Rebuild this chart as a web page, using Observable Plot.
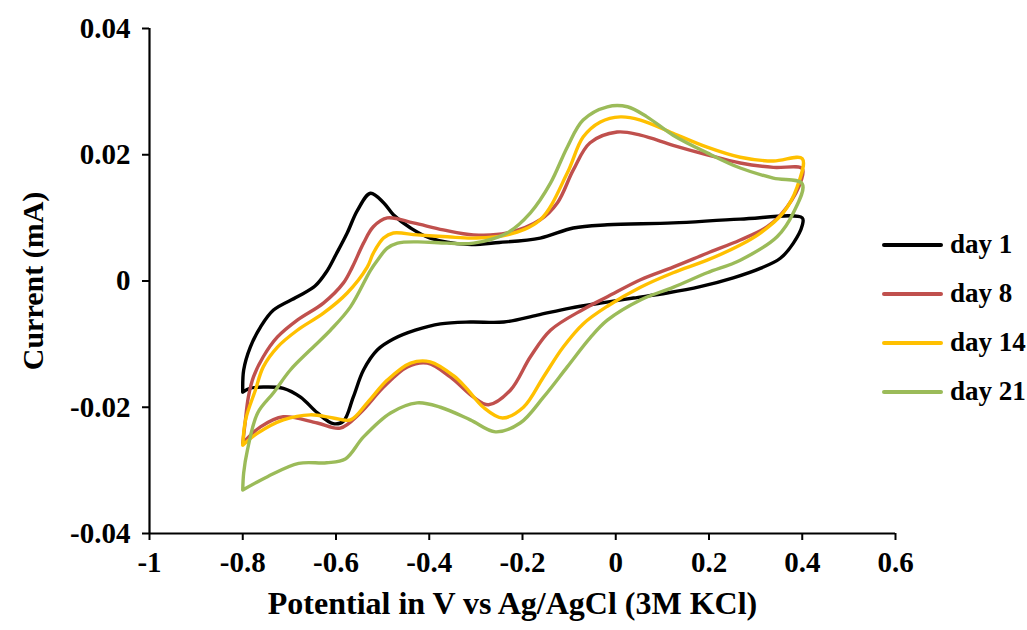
<!DOCTYPE html>
<html>
<head>
<meta charset="utf-8">
<script src="https://cdn.jsdelivr.net/npm/d3@7"></script>
<script src="https://cdn.jsdelivr.net/npm/@observablehq/plot@0.6"></script>
<style>
  html, body { margin: 0; padding: 0; background: #fff; }
  #wrap { position: relative; width: 1027px; height: 630px; background: #fff; }
  #legend { position: absolute; left: 882px; top: 220px; font-family: "Liberation Serif", "Times New Roman", serif; font-weight: bold; font-size: 27px; color: #000; }
  .row { display: flex; align-items: center; height: 49px; }
  .sw { width: 61px; height: 4px; margin-right: 7px; border-radius: 2px; }
</style>
</head>
<body>
<div id="wrap"><div id="legend"></div></div>
<script>
// ---- data (potential V, current mA), in scan order ----
const seriesNames = ["day 1", "day 8", "day 14", "day 21"];
const seriesColors = ["#000000", "#C0504D", "#FFC000", "#9BBB59"];

const day1 = [
  [-0.800,-0.0176],[-0.798,-0.0141],[-0.784,-0.0105],[-0.762,-0.0073],[-0.734,-0.0046],
  [-0.683,-0.0025],[-0.645,-0.0008],[-0.620,0.0015],[-0.600,0.0042],[-0.576,0.0076],
  [-0.554,0.0112],[-0.526,0.0139],[-0.498,0.0124],[-0.477,0.0105],[-0.440,0.0084],
  [-0.398,0.0068],[-0.318,0.0058],[-0.250,0.0061],[-0.162,0.0068],[-0.091,0.0084],
  [-0.018,0.0089],[0.123,0.0092],[0.267,0.0098],[0.400,0.0100],
  [0.400,0.0088],[0.381,0.0060],[0.353,0.0036],[0.310,0.0020],[0.252,0.0005],
  [0.181,-0.0009],[0.110,-0.0019],[0.038,-0.0027],[-0.033,-0.0035],[-0.098,-0.0043],
  [-0.168,-0.0054],[-0.240,-0.0065],[-0.312,-0.0065],[-0.376,-0.0068],[-0.430,-0.0078],
  [-0.477,-0.0092],[-0.511,-0.0109],[-0.541,-0.0141],[-0.563,-0.0184],[-0.584,-0.0222],
  [-0.606,-0.0226],[-0.640,-0.0209],[-0.676,-0.0184],[-0.713,-0.0170],[-0.756,-0.0168],
  [-0.785,-0.0170],[-0.800,-0.0176]
];
const day8 = [
  [-0.800,-0.0257],[-0.795,-0.0225],[-0.788,-0.0184],[-0.777,-0.0152],[-0.756,-0.0120],
  [-0.726,-0.0089],[-0.683,-0.0062],[-0.627,-0.0035],[-0.584,-0.0003],[-0.565,0.0022],
  [-0.541,0.0060],[-0.520,0.0086],[-0.490,0.0100],[-0.434,0.0092],[-0.370,0.0081],
  [-0.305,0.0073],[-0.233,0.0076],[-0.162,0.0097],[-0.125,0.0124],[-0.091,0.0176],
  [-0.055,0.0219],[0.003,0.0236],[0.053,0.0231],[0.123,0.0215],[0.196,0.0200],
  [0.267,0.0187],[0.338,0.0180],[0.400,0.0178],
  [0.398,0.0160],[0.367,0.0117],[0.325,0.0086],[0.267,0.0065],[0.196,0.0044],
  [0.123,0.0022],[0.053,0.0002],[-0.018,-0.0025],[-0.070,-0.0045],[-0.140,-0.0078],
  [-0.183,-0.0120],[-0.226,-0.0173],[-0.273,-0.0196],[-0.305,-0.0184],[-0.355,-0.0152],
  [-0.404,-0.0130],[-0.447,-0.0136],[-0.498,-0.0168],[-0.548,-0.0209],[-0.591,-0.0233],
  [-0.640,-0.0225],[-0.713,-0.0215],[-0.762,-0.0231],[-0.800,-0.0257]
];
const day14 = [
  [-0.800,-0.0260],[-0.794,-0.0220],[-0.773,-0.0173],[-0.756,-0.0136],[-0.726,-0.0105],
  [-0.683,-0.0078],[-0.627,-0.0051],[-0.576,-0.0019],[-0.533,0.0022],[-0.520,0.0044],
  [-0.498,0.0068],[-0.477,0.0076],[-0.426,0.0073],[-0.361,0.0070],[-0.305,0.0068],
  [-0.233,0.0073],[-0.162,0.0097],[-0.104,0.0171],[-0.070,0.0228],[-0.033,0.0252],
  [0.010,0.0260],[0.053,0.0255],[0.123,0.0234],[0.196,0.0212],[0.267,0.0196],
  [0.338,0.0190],[0.400,0.0194],
  [0.389,0.0149],[0.359,0.0108],[0.310,0.0076],[0.267,0.0057],[0.196,0.0033],
  [0.123,0.0013],[0.053,-0.0010],[-0.018,-0.0040],[-0.070,-0.0068],[-0.113,-0.0105],
  [-0.155,-0.0152],[-0.198,-0.0200],[-0.243,-0.0217],[-0.284,-0.0200],[-0.320,-0.0170],
  [-0.348,-0.0150],[-0.398,-0.0128],[-0.440,-0.0130],[-0.490,-0.0157],[-0.533,-0.0193],
  [-0.569,-0.0220],[-0.606,-0.0217],[-0.655,-0.0212],[-0.713,-0.0220],[-0.768,-0.0241],
  [-0.800,-0.0260]
];
const day21 = [
  [-0.800,-0.0331],[-0.798,-0.0304],[-0.790,-0.0268],[-0.768,-0.0209],[-0.734,-0.0177],
  [-0.698,-0.0141],[-0.655,-0.0109],[-0.612,-0.0078],[-0.569,-0.0041],[-0.526,0.0017],
  [-0.511,0.0033],[-0.490,0.0052],[-0.468,0.0060],[-0.426,0.0062],[-0.361,0.0060],
  [-0.305,0.0060],[-0.233,0.0076],[-0.183,0.0108],[-0.140,0.0155],[-0.104,0.0212],
  [-0.070,0.0255],[-0.018,0.0276],[0.025,0.0276],[0.067,0.0260],[0.123,0.0231],
  [0.196,0.0203],[0.267,0.0179],[0.338,0.0163],[0.400,0.0154],
  [0.381,0.0108],[0.346,0.0070],[0.267,0.0033],[0.196,0.0013],[0.123,-0.0010],
  [0.053,-0.0030],[-0.018,-0.0062],[-0.055,-0.0090],[-0.104,-0.0136],[-0.155,-0.0184],
  [-0.205,-0.0225],[-0.258,-0.0239],[-0.312,-0.0220],[-0.376,-0.0200],[-0.426,-0.0193],
  [-0.483,-0.0209],[-0.541,-0.0247],[-0.580,-0.0282],[-0.620,-0.0288],[-0.680,-0.0289],
  [-0.747,-0.0310],[-0.800,-0.0331]
];

const xTicks = [-1, -0.8, -0.6, -0.4, -0.2, 0, 0.2, 0.4, 0.6];
const yTicks = [-0.04, -0.02, 0, 0.02, 0.04];
const xTitle = "Potential in V vs Ag/AgCl (3M KCl)";
const yTitle = "Current (mA)";

// ---- build table ----
const allSeries = [day1, day8, day14, day21];
const rows = [];
allSeries.forEach((s, k) => s.forEach(([v, i]) => rows.push({series: seriesNames[k], v, i})));

const font = "'Liberation Serif', 'Times New Roman', serif";

const chart = Plot.plot({
  width: 1027,
  height: 630,
  marginLeft: 149,
  marginRight: 132,
  marginTop: 28,
  marginBottom: 97,
  style: {fontFamily: font, fontWeight: "bold", fontSize: "29px", color: "#000", background: "transparent"},
  x: {domain: [-1, 0.6]},
  y: {domain: [-0.04, 0.04]},
  color: {domain: seriesNames, range: seriesColors},
  marks: [
    Plot.axisX({ticks: xTicks, tickFormat: d => String(d), tickSize: 7, tickPadding: 11, label: null, strokeWidth: 2}),
    Plot.axisY({ticks: yTicks, tickFormat: d => String(d), tickSize: 7, tickPadding: 12, label: null, strokeWidth: 2}),
    Plot.ruleX([-1], {strokeWidth: 2.2}),
    Plot.ruleY([-0.04], {strokeWidth: 2.2}),
    Plot.line(rows, {x: "v", y: "i", z: "series", stroke: "series", strokeWidth: 3.4, curve: "catmull-rom"}),
    Plot.text([xTitle], {frameAnchor: "bottom", dx: -10, dy: 80, fontSize: 32, fontWeight: "bold"}),
    Plot.text([yTitle], {frameAnchor: "left", textAnchor: "middle", dx: -116, rotate: -90, fontSize: 30, fontWeight: "bold"})
  ]
});
const wrap = document.getElementById("wrap");
wrap.insertBefore(chart, wrap.firstChild);

const legend = document.getElementById("legend");
seriesNames.forEach((name, k) => {
  const row = document.createElement("div");
  row.className = "row";
  const sw = document.createElement("span");
  sw.className = "sw";
  sw.style.background = seriesColors[k];
  const t = document.createElement("span");
  t.textContent = name;
  row.appendChild(sw);
  row.appendChild(t);
  legend.appendChild(row);
});
</script>
</body>
</html>
